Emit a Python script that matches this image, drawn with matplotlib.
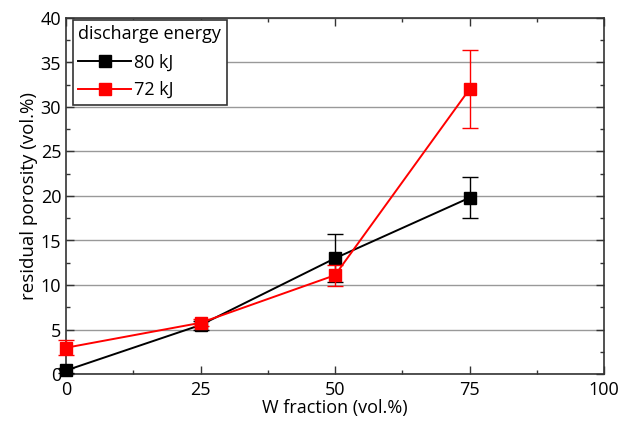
import matplotlib
matplotlib.use("Agg")
import matplotlib.pyplot as plt
from matplotlib.ticker import MultipleLocator

plt.rcParams["font.family"] = ["Open Sans", "DejaVu Sans"]

# W fraction (vol.%)
w_fraction = [0, 25, 50, 75]

# residual porosity (vol.%) with error bars
por_80kj = [0.4, 5.5, 13.0, 19.8]
err_80kj = [0.3, 0.5, 2.7, 2.3]
por_72kj = [2.95, 5.75, 11.1, 32.0]
err_72kj = [0.85, 0.4, 1.2, 4.4]

fig = plt.figure(figsize=(6.34, 4.23), dpi=100)
ax = fig.add_axes([66 / 634, 1 - 374 / 423, 538 / 634, 356 / 423])

for y, e, c, lab, z in [(por_80kj, err_80kj, "black", "80 kJ", 4),
                        (por_72kj, err_72kj, "red", "72 kJ", 5)]:
    ax.errorbar(w_fraction, y, yerr=e, fmt="none", ecolor=c, capsize=6,
                elinewidth=1, capthick=1, zorder=z, clip_on=False)
    ax.plot(w_fraction, y, color=c, marker="s", markersize=8, linewidth=1.4,
            label=lab, zorder=z, clip_on=False)

ax.set_xlim(0, 100)
ax.set_ylim(0, 40)
ax.xaxis.set_major_locator(MultipleLocator(25))
ax.xaxis.set_minor_locator(MultipleLocator(12.5))
ax.yaxis.set_major_locator(MultipleLocator(5))
ax.yaxis.set_minor_locator(MultipleLocator(2.5))
ax.tick_params(which="both", direction="in", top=True, right=True,
               labelsize=13, color="#333333", width=1)
ax.tick_params(which="major", length=6)
ax.tick_params(which="minor", length=3)
ax.tick_params(axis="x", pad=5)
ax.grid(axis="y", which="major", color="#999999", linewidth=1)
ax.set_axisbelow(True)
for s in ax.spines.values():
    s.set_color("#333333")
    s.set_linewidth(1.2)

ax.set_xlabel("W fraction (vol.%)", fontsize=13, labelpad=0)
ax.set_ylabel("residual porosity (vol.%)", fontsize=13.5, labelpad=2)

leg = ax.legend(title="discharge energy", loc="upper left", fontsize=13,
                title_fontsize=13, fancybox=False, framealpha=1,
                edgecolor="#333333", borderpad=0.3, handlelength=2.9,
                borderaxespad=0, handletextpad=0.2, labelspacing=0.55,
                bbox_to_anchor=(7 / 538, 1 - 2 / 356))
leg.get_frame().set_linewidth(1.2)
leg._legend_box.align = "left"

fig.savefig("out.png", dpi=100)
